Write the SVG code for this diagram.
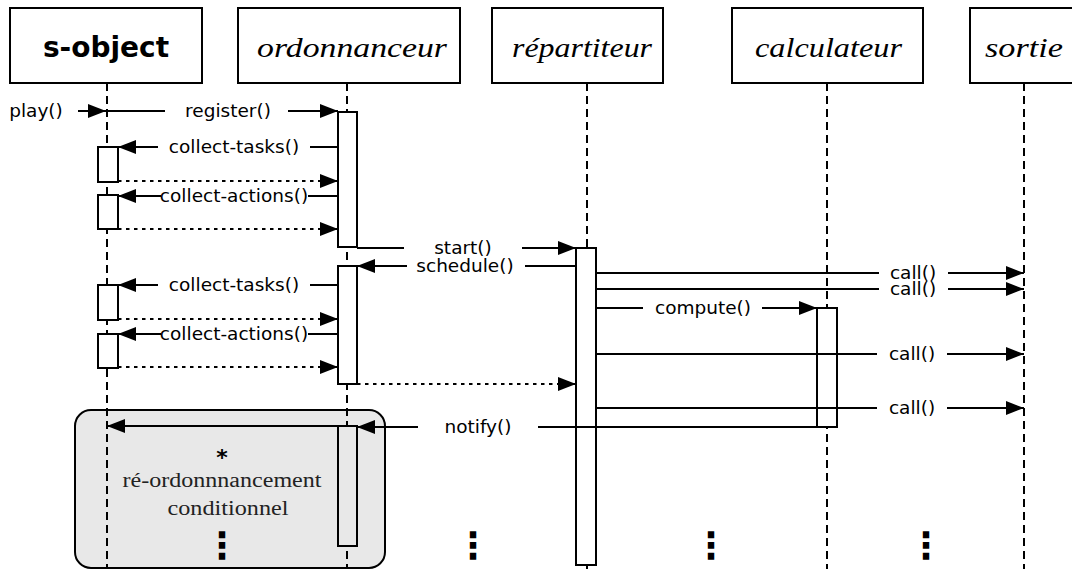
<svg xmlns="http://www.w3.org/2000/svg" width="1072" height="569" viewBox="0 0 1072 569">
<style>
.hdr{fill:#fff;stroke:#000;stroke-width:2}
.ht{font-family:"Liberation Serif",serif;font-style:italic;font-size:28px;fill:#000}
.life{stroke:#000;stroke-width:2;stroke-dasharray:8,5;fill:none}
.act{fill:#fff;stroke:#000;stroke-width:2}
.msg{stroke:#000;stroke-width:2;fill:none}
.ret{stroke:#000;stroke-width:2;fill:none;stroke-dasharray:3.5,4.5}
.lbl{font-family:"DejaVu Sans",sans-serif;font-size:18.5px;fill:#000;text-anchor:middle}
.cm{font-family:"Liberation Serif",serif;font-size:20px;fill:#222;text-anchor:middle}
.dots{font-family:"DejaVu Sans",sans-serif;font-size:36px;font-weight:bold;fill:#000;text-anchor:middle}
</style>
<defs>
<marker id="ah" viewBox="0 0 18 14" markerWidth="18" markerHeight="14" refX="18" refY="7" orient="auto" markerUnits="userSpaceOnUse">
<path d="M0,0 L18,7 L0,14 z" fill="#000"/>
</marker>
</defs>
<g id="loop">
<rect x="75" y="410" width="310" height="158" rx="16" ry="16" fill="#e8e8e8" stroke="#000" stroke-width="2"/>
<text class="lbl" x="222" y="465" style="font-weight:bold;font-size:22px">*</text>
<text class="cm" x="222" y="487" textLength="199" lengthAdjust="spacingAndGlyphs">ré-ordonnnancement</text>
<text class="cm" x="228" y="515" textLength="121" lengthAdjust="spacingAndGlyphs">conditionnel</text>
</g>
<g id="lifelines">
<line class="life" x1="107" y1="83" x2="107" y2="569"/>
<line class="life" x1="347" y1="83" x2="347" y2="569"/>
<line class="life" x1="587" y1="83" x2="587" y2="569"/>
<line class="life" x1="827" y1="83" x2="827" y2="569"/>
<line class="life" x1="1024" y1="83" x2="1024" y2="569"/>
</g>
<g id="s-object">
<rect class="hdr" x="10" y="8" width="192" height="75"/>
<text x="106" y="57" text-anchor="middle" font-family="DejaVu Sans, sans-serif" font-weight="bold" font-size="28">s-object</text>
<rect class="act" x="98" y="147" width="20" height="35"/>
<rect class="act" x="98" y="195" width="20" height="34"/>
<rect class="act" x="98" y="285" width="20" height="35"/>
<rect class="act" x="98" y="334" width="20" height="34"/>
</g>
<g id="ordonnanceur">
<rect class="hdr" x="238" y="8" width="222" height="75"/>
<text class="ht" x="257" y="57" textLength="190" lengthAdjust="spacingAndGlyphs">ordonnanceur</text>
<rect class="act" x="338" y="112" width="19" height="135"/>
<rect class="act" x="338" y="266" width="19" height="118"/>
<rect class="act" x="338" y="426" width="19" height="120" style="fill:#e8e8e8"/>
</g>
<g id="repartiteur">
<rect class="hdr" x="492" y="8" width="171" height="75"/>
<text class="ht" x="512" y="57" textLength="140" lengthAdjust="spacingAndGlyphs">répartiteur</text>
<rect class="act" x="576" y="248" width="20" height="317"/>
</g>
<g id="calculateur">
<rect class="hdr" x="732" y="8" width="191" height="75"/>
<text class="ht" x="755" y="57" textLength="147" lengthAdjust="spacingAndGlyphs">calculateur</text>
<rect class="act" x="817" y="308" width="20" height="119"/>
</g>
<g id="sortie">
<rect class="hdr" x="970" y="8" width="112" height="75"/>
<text class="ht" x="985" y="57" textLength="78" lengthAdjust="spacingAndGlyphs">sortie</text>
</g>
<g id="connectors">
<line class="msg" x1="78" y1="111" x2="106" y2="111" marker-end="url(#ah)"/>
<text class="lbl" x="36" y="117">play()</text>
<line class="msg" x1="107" y1="111" x2="165" y2="111"/>
<line class="msg" x1="288" y1="111" x2="338" y2="111" marker-end="url(#ah)"/>
<text class="lbl" x="228" y="117">register()</text>
<line class="msg" x1="338" y1="147" x2="310" y2="147"/>
<line class="msg" x1="158" y1="147" x2="118" y2="147" marker-end="url(#ah)"/>
<text class="lbl" x="234" y="153">collect-tasks()</text>
<line class="ret" x1="118" y1="181" x2="338" y2="181" marker-end="url(#ah)"/>
<line class="msg" x1="338" y1="196" x2="308" y2="196"/>
<line class="msg" x1="161" y1="196" x2="118" y2="196" marker-end="url(#ah)"/>
<text class="lbl" x="234" y="202">collect-actions()</text>
<line class="ret" x1="118" y1="229" x2="338" y2="229" marker-end="url(#ah)"/>
<line class="msg" x1="357" y1="248" x2="404" y2="248"/>
<line class="msg" x1="522" y1="248" x2="576" y2="248" marker-end="url(#ah)"/>
<text class="lbl" x="463" y="254">start()</text>
<line class="msg" x1="576" y1="266" x2="525" y2="266"/>
<line class="msg" x1="407" y1="266" x2="357" y2="266" marker-end="url(#ah)"/>
<text class="lbl" x="465" y="272">schedule()</text>
<line class="msg" x1="338" y1="285" x2="310" y2="285"/>
<line class="msg" x1="158" y1="285" x2="118" y2="285" marker-end="url(#ah)"/>
<text class="lbl" x="234" y="291">collect-tasks()</text>
<line class="ret" x1="118" y1="319" x2="338" y2="319" marker-end="url(#ah)"/>
<line class="msg" x1="338" y1="334" x2="308" y2="334"/>
<line class="msg" x1="161" y1="334" x2="118" y2="334" marker-end="url(#ah)"/>
<text class="lbl" x="234" y="340">collect-actions()</text>
<line class="ret" x1="118" y1="367" x2="338" y2="367" marker-end="url(#ah)"/>
<line class="msg" x1="596" y1="273" x2="879" y2="273"/>
<line class="msg" x1="948" y1="273" x2="1024" y2="273" marker-end="url(#ah)"/>
<text class="lbl" x="913" y="279">call()</text>
<line class="msg" x1="596" y1="289" x2="879" y2="289"/>
<line class="msg" x1="948" y1="289" x2="1024" y2="289" marker-end="url(#ah)"/>
<text class="lbl" x="913" y="295">call()</text>
<line class="msg" x1="596" y1="308" x2="643" y2="308"/>
<line class="msg" x1="762" y1="308" x2="817" y2="308" marker-end="url(#ah)"/>
<text class="lbl" x="703" y="314">compute()</text>
<line class="msg" x1="596" y1="354" x2="877" y2="354"/>
<line class="msg" x1="947" y1="354" x2="1024" y2="354" marker-end="url(#ah)"/>
<text class="lbl" x="912" y="360">call()</text>
<line class="ret" x1="357" y1="384" x2="576" y2="384" marker-end="url(#ah)"/>
<line class="msg" x1="596" y1="408" x2="877" y2="408"/>
<line class="msg" x1="947" y1="408" x2="1024" y2="408" marker-end="url(#ah)"/>
<text class="lbl" x="912" y="414">call()</text>
<line class="msg" x1="817" y1="427" x2="538" y2="427"/>
<line class="msg" x1="418" y1="427" x2="357" y2="427" marker-end="url(#ah)"/>
<text class="lbl" x="478" y="433">notify()</text>
<line class="msg" x1="338" y1="426" x2="107" y2="426" marker-end="url(#ah)"/>
</g>
<g id="continuation">
<text class="dots" x="222" y="558">⋮</text>
<text class="dots" x="473" y="558">⋮</text>
<text class="dots" x="711" y="558">⋮</text>
<text class="dots" x="926" y="558">⋮</text>
</g>
</svg>
